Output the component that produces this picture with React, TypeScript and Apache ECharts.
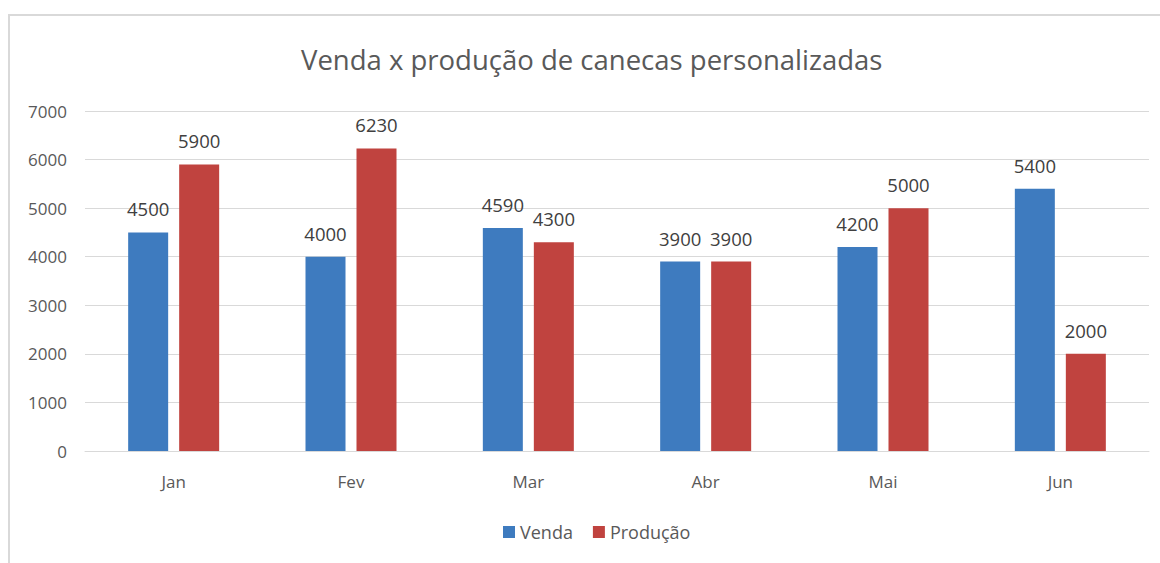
import React, { useEffect, useRef } from "react";
import * as echarts from "echarts";

const categories = ["Jan", "Fev", "Mar", "Abr", "Mai", "Jun"];
const venda = [4500, 4000, 4590, 3900, 4200, 5400];
const producao = [5900, 6230, 4300, 3900, 5000, 2000];
const yTicks = [0, 1000, 2000, 3000, 4000, 5000, 6000, 7000];

const FONT = "'Open Sans', 'Noto Sans', sans-serif";

export default function App() {
  const ref = useRef<HTMLDivElement>(null);
  useEffect(() => {
    if (!ref.current) return;
    const chart = echarts.init(ref.current, null, { renderer: "svg" });
    const labelStyle = {
      show: true,
      position: "top" as const,
      distance: 14,
      color: "#404040",
      fontSize: 18.5,
      fontFamily: FONT,
    };
    chart.setOption({
      animation: false,
      backgroundColor: "#ffffff",
      textStyle: { fontFamily: FONT },
      title: {
        text: "Venda x produção de canecas personalizadas",
        left: 296,
        top: 40,
        textStyle: { fontSize: 27.5, fontWeight: "normal", color: "#595959", fontFamily: FONT },
      },
      graphic: [
        {
          type: "rect",
          shape: { x: 9, y: 15, width: 1170, height: 600 },
          style: { fill: "none", stroke: "#d9d9d9", lineWidth: 2 },
          silent: true,
        },
      ],
      legend: {
        bottom: 17,
        left: 498,
        itemWidth: 12,
        itemHeight: 12,
        itemGap: 20,
        icon: "rect",
        textStyle: { fontSize: 18, color: "#595959", fontFamily: FONT },
        data: ["Venda", "Produção"],
      },
      grid: { left: 85, right: 11, top: 111, bottom: 112, containLabel: false },
      xAxis: {
        type: "category",
        data: categories,
        axisLine: { show: true, lineStyle: { color: "#d9d9d9" } },
        axisTick: { show: false },
        axisLabel: { color: "#595959", fontSize: 17, margin: 22, fontFamily: FONT },
      },
      yAxis: {
        type: "value",
        min: yTicks[0],
        max: yTicks[yTicks.length - 1],
        interval: 1000,
        axisLine: { show: false },
        axisTick: { show: false },
        axisLabel: {
          color: "#595959",
          fontSize: 17,
          margin: 18,
          fontFamily: FONT,
          formatter: (v: number) => String(v),
        },
        splitLine: { lineStyle: { color: "#d9d9d9" } },
      },
      series: [
        {
          name: "Venda",
          type: "bar",
          data: venda,
          barWidth: 40,
          barGap: "27.5%",
          itemStyle: { color: "#3E7BBF" },
          label: labelStyle,
        },
        {
          name: "Produção",
          type: "bar",
          data: producao,
          barWidth: 40,
          barGap: "27.5%",
          itemStyle: { color: "#C0433F" },
          label: labelStyle,
        },
      ],
    });
    return () => chart.dispose();
  }, []);
  return (
    <div
      ref={ref}
      style={{ position: "absolute", left: 0, top: 0, width: 1160, height: 563 }}
    />
  );
}
